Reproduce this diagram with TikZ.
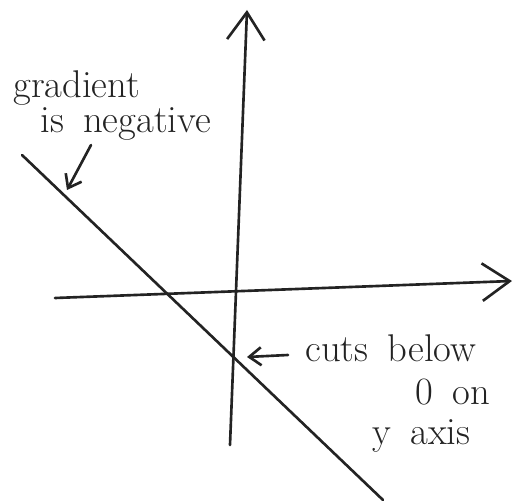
\documentclass[tikz,border=0pt]{standalone}
\usepackage{tikz}
\usetikzlibrary{arrows.meta}
\definecolor{ink}{RGB}{35,35,35}
\newcommand{\handfont}{\fontsize{22}{26}\selectfont\spaceskip=0.5em\relax}

\begin{document}
\begin{tikzpicture}[x=0.02cm,y=-0.02cm,line cap=round,line join=round,
  hand/.style={draw=ink,line width=1.5pt},
  bigtip/.style={-{Straight Barb[length=0.55cm,width=0.75cm]}},
  smalltip/.style={-{Straight Barb[length=0.24cm,width=0.36cm]}},
  note/.style={anchor=base west,inner sep=0pt,text=ink,font=\handfont}]
  \useasboundingbox (0,0) rectangle (532,503);
  % axes
  \coordinate (ybot) at (230,445);
  \coordinate (ytop) at (247,10);
  \coordinate (xleft) at (55,298);
  \coordinate (xright) at (512,281);
  \draw[hand,bigtip] (ybot) -- (ytop);
  \draw[hand,bigtip] (xleft) -- (xright);
  % the line
  \coordinate (lstart) at (22,155);
  \coordinate (lend) at (383,500);
  \draw[hand] (lstart) -- (lend);
  % labels
  \node[note] (grad) at (13,98) {gradient};
  \node[note] (neg) at (40,133) {is negative};
  \node[note] (cuts) at (305,362) {cuts below};
  \node[note] (zeroon) at (415,405) {0 on};
  \node[note] (yaxis) at (372,445) {y axis};
  \coordinate (gradfrom) at (91,145);
  \coordinate (gradto) at (67,190);
  \coordinate (cutsfrom) at (288,355);
  \coordinate (cutsto) at (247,357);
  \draw[hand,smalltip] (gradfrom) -- (gradto);
  \draw[hand,smalltip] (cutsfrom) -- (cutsto);
\end{tikzpicture}
\end{document}
